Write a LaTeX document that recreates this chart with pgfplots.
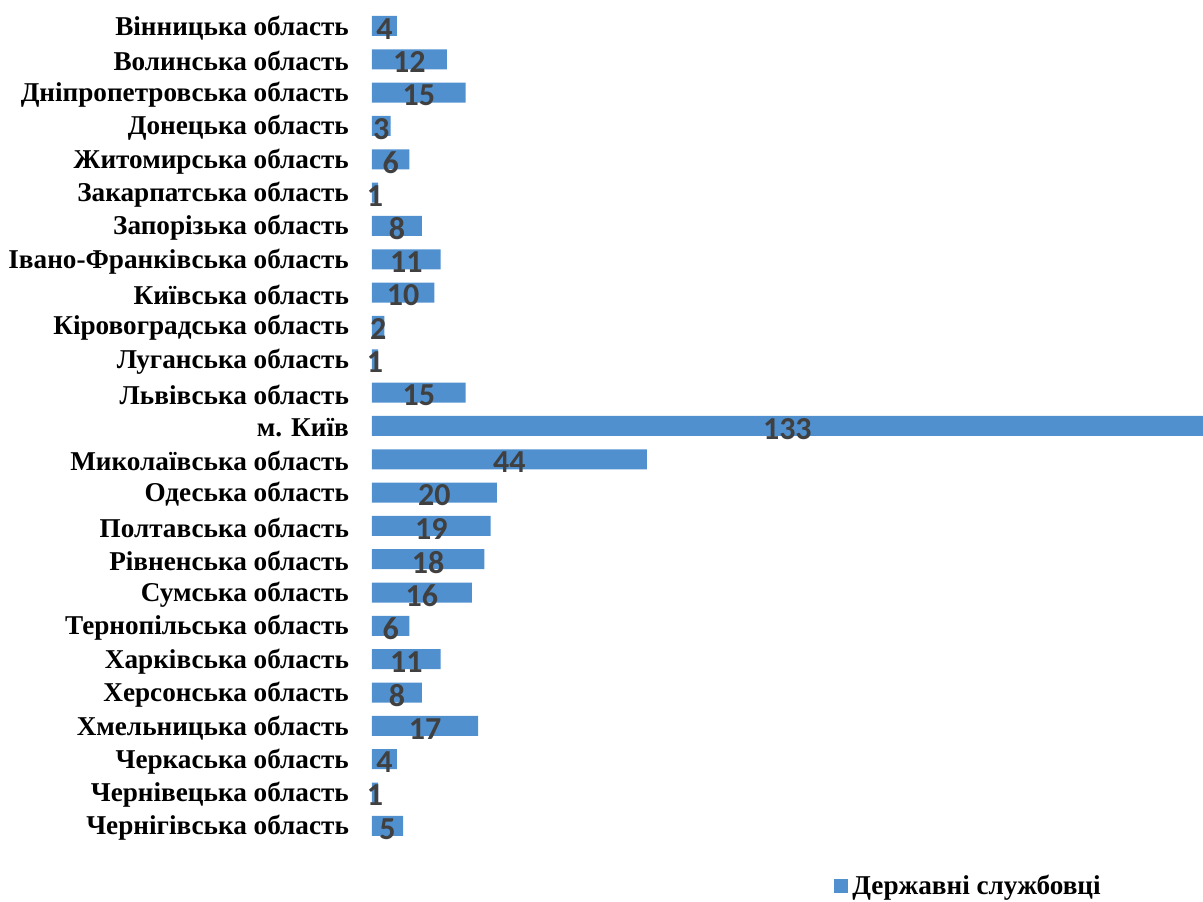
\documentclass[border=0pt]{standalone}
\usepackage{pgfplots}
\pgfplotsset{compat=1.18}
\usepackage{pgfplotstable}
\usepackage{fontspec}
\setmainfont{Liberation Serif}
\newfontfamily\carlito{Carlito}
\definecolor{barblue}{RGB}{80,144,207}
\definecolor{lbl}{RGB}{64,64,64}
\pgfplotstableread{
i v
0 4
1 12
2 15
3 3
4 6
5 1
6 8
7 11
8 10
9 2
10 1
11 15
12 133
13 44
14 20
15 19
16 18
17 16
18 6
19 11
20 8
21 17
22 4
23 1
24 5
}\datatable
\begin{document}
\begin{tikzpicture}
\begin{axis}[
  scale only axis,
  width=415.5pt, height=416.67pt,
  xmin=0, xmax=133,
  ymin=-0.5, ymax=24.5,
  y dir=reverse,
  axis line style={draw=none},
  major tick length=0pt,
  xtick=\empty,
  ytick={0,...,24},
  yticklabels={Вінницька область,Волинська область,Дніпропетровська область,Донецька область,Житомирська область,Закарпатська область,Запорізька область,Івано-Франківська область,Київська область,Кіровоградська область,Луганська область,Львівська область,{м. Київ\hspace{2pt}},Миколаївська область,Одеська область,{Полтавська область\hspace{3.5pt}},Рівненська область,Сумська область,Тернопільська область,{Харківська область\hspace{3.5pt}},Херсонська область,Хмельницька область,Черкаська область,Чернівецька область,Чернігівська область},
  yticklabel style={font=\bfseries\fontsize{13.6}{15}\selectfont, anchor=east, xshift=-8pt, yshift=-1pt},
  clip=false,
  legend style={draw=none, fill=none, at={(0.719,-0.052)}, anchor=center, font=\bfseries\fontsize{13.6}{15}\selectfont, inner sep=0pt},
  legend image code/.code={\fill[barblue] (0pt,-3.6pt) rectangle (7.2pt,3.6pt);},
]
\addplot[xbar, bar width=10pt, fill=barblue, draw=none] table[x=v, y=i] {\datatable};
\addlegendentry{Державні службовці}
\addplot[draw=none, mark=none, forget plot, nodes near coords, point meta=explicit symbolic,
  every node near coord/.append style={anchor=center, yshift=-1.5pt, font=\carlito\bfseries\fontsize{16}{18}\selectfont, text=lbl, inner sep=0pt}]
  table[x expr=\thisrow{v}/2, y=i, meta=v] {\datatable};
\end{axis}
\path[use as bounding box] (-186pt,-28.17pt) rectangle (415.5pt,421.33pt);
\end{tikzpicture}
\end{document}
